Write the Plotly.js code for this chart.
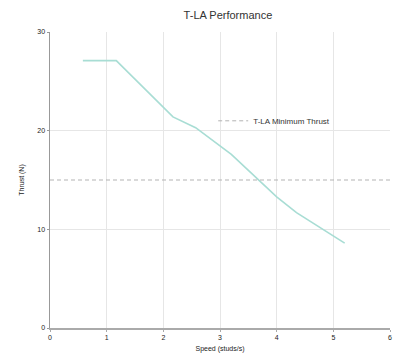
<!DOCTYPE html>
<html>
<head>
<meta charset="utf-8">
<script src="https://cdn.plot.ly/plotly-3.0.1.min.js"></script>
<style>
html,body{margin:0;padding:0;background:#fff;}
#chart{width:393px;height:364px;}
</style>
</head>
<body>
<div id="chart"></div>
<script>
var speed = [0.58, 1.17, 2.17, 2.57, 3.2, 3.6, 4.0, 4.35, 5.2];
var thrust = [27.1, 27.1, 21.4, 20.3, 17.6, 15.4, 13.3, 11.7, 8.6];
var minSpeed = [0, 6];
var minThrust = [15, 15];
var xTicks = [0, 1, 2, 3, 4, 5, 6];
var yTicks = [0, 10, 20, 30];

var FONT = '"Liberation Sans Narrow", "Arial Narrow", "Liberation Sans", sans-serif';

var traces = [
  {
    x: speed, y: thrust, type: 'scatter', mode: 'lines',
    name: 'T-LA Performance', showlegend: false,
    line: {color: '#a8ddd4', width: 1.6}
  },
  {
    x: minSpeed, y: minThrust, type: 'scatter', mode: 'lines',
    name: 'T-LA Minimum Thrust',
    line: {color: '#b3b3b3', width: 1, dash: '4px,3px'}
  }
];

var layout = {
  width: 393, height: 364,
  margin: {l: 50, r: 3, t: 32, b: 36},
  paper_bgcolor: '#fff', plot_bgcolor: '#fff',
  font: {family: FONT, size: 7, color: '#333'},
  title: {text: 'T-LA Performance', font: {family: FONT, size: 11, color: '#333'}, x: 0.58, xanchor: 'center', y: 0.958, yanchor: 'middle'},
  xaxis: {
    range: [0, 6], tickvals: xTicks, ticktext: xTicks.map(String),
    showgrid: true, gridcolor: '#e6e6e6', gridwidth: 1,
    showline: true, linecolor: '#aaaaaa', linewidth: 2,
    zeroline: false, ticks: 'outside', ticklen: 2, tickcolor: '#aaa',
    title: {text: 'Speed (studs/s)', font: {family: FONT, size: 7, color: '#222'}, standoff: 6},
    tickfont: {family: FONT, size: 7, color: '#222'}
  },
  yaxis: {
    range: [0, 30], tickvals: yTicks, ticktext: yTicks.map(String),
    showgrid: true, gridcolor: '#e6e6e6', gridwidth: 1,
    showline: true, linecolor: '#999999', linewidth: 1.5,
    zeroline: false, ticks: 'outside', ticklen: 2, tickcolor: '#999',
    title: {text: 'Thrust (N)', font: {family: FONT, size: 7, color: '#222'}, standoff: 12},
    tickfont: {family: FONT, size: 7, color: '#222'}
  },
  legend: {
    x: 0.48, y: 0.70, xanchor: 'left', yanchor: 'middle',
    bgcolor: 'rgba(0,0,0,0)', itemwidth: 30,
    font: {family: FONT, size: 8, color: '#333'}
  },
  showlegend: true
};

Plotly.newPlot('chart', traces, layout, {displayModeBar: false, staticPlot: true});
</script>
</body>
</html>
